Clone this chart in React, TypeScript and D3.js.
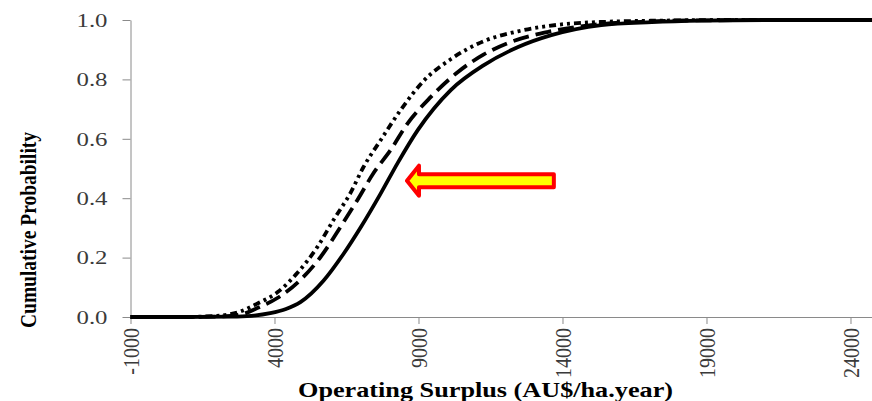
import React, { useEffect, useRef } from 'react';
import * as d3 from 'd3';

// Cumulative probability curves (x = AU$/ha.year)
const solidX = [-1000, 1000, 2500, 3200, 3850, 4400, 4900, 5700, 6400, 7000, 7700, 8280, 8980, 10120, 11270, 12460, 13610, 15350, 17100, 18840, 21000, 24747];
const solidP = [0, 0, 0.001, 0.004, 0.013, 0.027, 0.05, 0.122, 0.213, 0.303, 0.418, 0.519, 0.63, 0.764, 0.848, 0.909, 0.949, 0.983, 0.993, 0.998, 1, 1];

const dashX = [-1000, 1000, 2200, 2900, 3400, 4100, 4900, 5600, 6290, 6880, 7440, 8030, 8630, 9430, 10370, 11270, 12150, 13500, 15000, 17000, 19000, 24747];
const dashP = [0, 0, 0.002, 0.01, 0.03, 0.064, 0.125, 0.202, 0.303, 0.394, 0.485, 0.562, 0.653, 0.741, 0.825, 0.884, 0.924, 0.96, 0.983, 0.995, 0.999, 1];

const dotX = [-1000, 800, 2000, 2800, 3400, 4100, 4790, 5490, 6050, 6640, 7090, 7690, 8380, 9180, 10120, 11270, 12460, 13850, 15500, 17500, 19500, 24747];
const dotP = [0, 0, 0.004, 0.018, 0.045, 0.083, 0.148, 0.236, 0.327, 0.418, 0.505, 0.596, 0.697, 0.795, 0.868, 0.929, 0.962, 0.984, 0.994, 0.998, 1, 1];

const xTicks = [-1000, 4000, 9000, 14000, 19000, 24000];
const yTicks = [0, 0.2, 0.4, 0.6, 0.8, 1.0];

// arrow annotation, in data units: tip, shaft end
const arrowTip = { x: 8600, p: 0.459 };
const arrowTail = { x: 13700 };

const W = 872, H = 401;

export default function App() {
  const ref = useRef<SVGSVGElement | null>(null);

  useEffect(() => {
    if (!ref.current) return;
    const svg = d3.select(ref.current);
    svg.selectAll('*').remove();

    const x = d3.scaleLinear().domain([-1000, 24747]).range([130.5, 872]);
    const y = d3.scaleLinear().domain([0, 1]).range([317, 20]);
    const axisColor = '#8a8a8a';
    const serif = '"Liberation Serif", "DejaVu Serif", serif';

    // y axis
    const gy = svg.append('g').attr('transform', `translate(${x(-1000)},0)`)
      .call(d3.axisLeft(y).tickValues(yTicks).tickSize(8).tickSizeOuter(0).tickFormat(d3.format('.1f')));
    gy.select('.domain').attr('stroke', axisColor);
    gy.selectAll('.tick line').attr('stroke', axisColor);
    gy.selectAll('.tick text')
      .attr('x', -23).attr('dy', '0.35em')
      .attr('fill', '#3a3a3a')
      .style('font-family', serif).style('font-size', '18px')
      .attr('textLength', 31).attr('lengthAdjust', 'spacingAndGlyphs');

    // x axis
    const gx = svg.append('g').attr('transform', `translate(0,${y(0)})`)
      .call(d3.axisBottom(x).tickValues(xTicks).tickSize(7).tickSizeOuter(0).tickFormat(d => String(d)));
    gx.select('.domain').attr('stroke', axisColor);
    gx.selectAll('.tick line').attr('stroke', axisColor);
    gx.selectAll('.tick text')
      .attr('y', null).attr('dy', '0.35em')
      .attr('text-anchor', 'end')
      .attr('transform', 'translate(0,11) scale(1.15,1) rotate(-90)')
      .attr('fill', '#3a3a3a')
      .style('font-family', serif).style('font-size', '20px');

    // curves
    const series = [
      { xs: dotX, ps: dotP, dash: '7,4,3,4,3,4' },
      { xs: dashX, ps: dashP, dash: '16,7' },
      { xs: solidX, ps: solidP, dash: null },
    ];
    const line = d3.line<[number, number]>()
      .x(d => x(d[0]))
      .y(d => y(d[1]))
      .curve(d3.curveMonotoneX);
    series.forEach(s => {
      const pts = s.xs.map((v, i) => [v, s.ps[i]] as [number, number]);
      svg.append('path')
        .datum(pts)
        .attr('fill', 'none')
        .attr('stroke', '#000')
        .attr('stroke-width', 3.8)
        .attr('stroke-dasharray', s.dash)
        .attr('d', line);
    });

    // arrow
    const tx = x(arrowTip.x), ty = y(arrowTip.p), ex = x(arrowTail.x);
    const hb = tx + 12, hh = 15, sh = 6.5;
    const arrowPts = [
      [tx, ty], [hb, ty - hh], [hb, ty - sh], [ex, ty - sh],
      [ex, ty + sh], [hb, ty + sh], [hb, ty + hh],
    ];
    svg.append('path')
      .attr('d', 'M' + arrowPts.map(p => p.join(',')).join('L') + 'Z')
      .attr('fill', '#ffff00')
      .attr('stroke', '#ff0000')
      .attr('stroke-width', 4)
      .attr('stroke-linejoin', 'round');

    // axis titles
    svg.append('text')
      .attr('x', 485.5).attr('y', 397)
      .attr('text-anchor', 'middle')
      .style('font-family', serif).style('font-size', '21px').style('font-weight', 'bold')
      .attr('textLength', 375).attr('lengthAdjust', 'spacingAndGlyphs')
      .text('Operating Surplus (AU$/ha.year)');

    svg.append('text')
      .attr('transform', 'translate(28,230) scale(1.2,1) rotate(-90)')
      .attr('text-anchor', 'middle').attr('dy', '0.35em')
      .style('font-family', serif).style('font-size', '19px').style('font-weight', 'bold')
      .attr('textLength', 196).attr('lengthAdjust', 'spacingAndGlyphs')
      .text('Cumulative Probability');
  }, []);

  return (
    <svg ref={ref} width={W} height={H} viewBox={`0 0 ${W} ${H}`}
      style={{ position: 'absolute', left: 0, top: 0, background: '#fff' }} />
  );
}
